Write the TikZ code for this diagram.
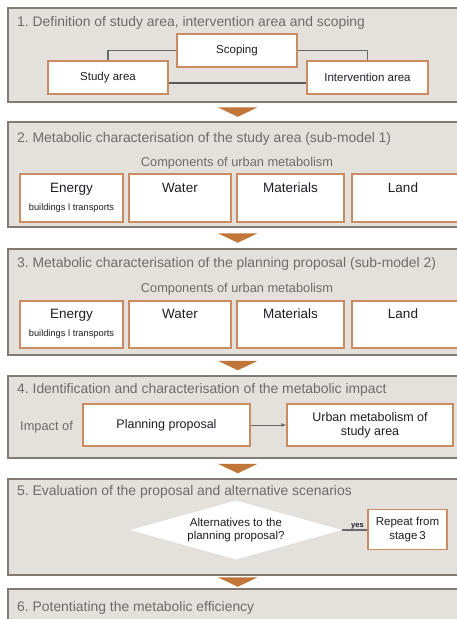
\documentclass[tikz,border=0pt]{standalone}
\usepackage{fontspec}
\setmainfont{Liberation Sans}
\usetikzlibrary{calc,arrows.meta,shapes.geometric}
\frenchspacing

\definecolor{panelfill}{HTML}{E4E0DC}
\definecolor{panelline}{HTML}{817B73}
\definecolor{boxline}{HTML}{C98B5F}
\definecolor{flowarrow}{HTML}{C27538}
\definecolor{titlegray}{HTML}{6F6B68}
\definecolor{linkgray}{HTML}{6A6A6A}
\definecolor{boxtext}{HTML}{1E1E24}

\tikzset{
  panel/.style={draw=panelline, fill=panelfill, line width=1.5pt, inner sep=0pt,
    minimum width=460pt, anchor=north west},
  heading/.style={text=titlegray, font=\fontsize{13.9}{15}\selectfont, inner sep=0pt, anchor=base west},
  sidelabel/.style={text=titlegray, font=\fontsize{12.8}{14}\selectfont, inner sep=0pt, anchor=base west},
  subheading/.style={text=titlegray, font=\fontsize{12.8}{14}\selectfont, inner sep=0pt, anchor=base},
  ubox/.style={draw=boxline, fill=white, line width=1.3pt, inner sep=0pt, text=boxtext,
    font=\fontsize{11.5}{13.5}\selectfont, align=center},
  comp/.style={text=boxtext, font=\fontsize{13.5}{15}\selectfont, inner sep=0pt, anchor=base},
  compsub/.style={text=boxtext, font=\fontsize{9.3}{10}\selectfont, inner sep=0pt, anchor=base},
  link/.style={draw=linkgray, line width=1.4pt},
}

% downward stage arrow between two stacked panels
\newcommand{\stagearrow}[2]{%
  \fill[flowarrow] ($(#1.south)!0.5!(#2.north)+(-20,-4.5)$)
    -- ($(#1.south)!0.5!(#2.north)+(20,-4.5)$)
    -- ($(#1.south)!0.5!(#2.north)+(0,5)$) -- cycle;}

\begin{document}
\begin{tikzpicture}[x=1pt, y=-1pt]
\useasboundingbox[fill=white] (0,0) rectangle (456,619);

% ---- stage panels
\node[panel, minimum height=94pt]  (p1) at (7,7)   {};
\node[panel, minimum height=105pt] (p2) at (7,121) {};
\node[panel, minimum height=106pt] (p3) at (7,248) {};
\node[panel, minimum height=82pt]  (p4) at (7,375) {};
\node[panel, minimum height=96pt]  (p5) at (7,478) {};
\node[panel, minimum height=60pt]  (p6) at (7,588) {};

\stagearrow{p1}{p2}
\stagearrow{p2}{p3}
\stagearrow{p3}{p4}
\stagearrow{p4}{p5}
\stagearrow{p5}{p6}

% ---- stage 1
\node[heading] (t1) at (17,26) {1. Definition of study area, intervention area and scoping};
\node[ubox, minimum width=120pt, minimum height=33pt] (scope) at (237,50.5) {Scoping};
\node[ubox, minimum width=120pt, minimum height=33pt] (study) at (108,77.5) {Study area};
\node[ubox, minimum width=121pt, minimum height=33pt] (inter) at (367.5,77.5) {Intervention area};
\draw[link] (scope.west) -| (study.north);
\draw[link] (scope.east) -| (inter.north);
\draw[draw=linkgray!85!black, line width=2.6pt] (study.east |- 0,83) -- (inter.west |- 0,83);

% ---- stage 2
\node[heading] (t2) at (17,142) {2. Metabolic characterisation of the study area (sub-model 1)};
\node[subheading] (c2) at (237,166) {Components of urban metabolism};
\node[ubox, minimum width=103pt, minimum height=48pt] (en2) at (71.5,198) {};
\node[ubox, minimum width=102pt, minimum height=48pt] (wa2) at (180,198) {};
\node[ubox, minimum width=107pt, minimum height=48pt] (ma2) at (290.5,198) {};
\node[ubox, minimum width=106pt, minimum height=48pt] (la2) at (405,198) {};
\node[comp] (en2t) at (en2.center |- 0,192) {Energy};
\node[compsub] (en2s) at (en2.center |- 0,210.5) {buildings l transports};
\node[comp] (wa2t) at (wa2.center |- 0,192) {Water};
\node[comp] (ma2t) at (ma2.center |- 0,192) {Materials};
\node[comp] (la2t) at (403,192) {Land};

% ---- stage 3
\node[heading] (t3) at (17,267) {3. Metabolic characterisation of the planning proposal (sub-model 2)};
\node[subheading] (c3) at (237,292.5) {Components of urban metabolism};
\node[ubox, minimum width=103pt, minimum height=47pt] (en3) at (71.5,324.5) {};
\node[ubox, minimum width=102pt, minimum height=47pt] (wa3) at (180,324.5) {};
\node[ubox, minimum width=107pt, minimum height=47pt] (ma3) at (290.5,324.5) {};
\node[ubox, minimum width=106pt, minimum height=47pt] (la3) at (405,324.5) {};
\node[comp] (en3t) at (en3.center |- 0,318.5) {Energy};
\node[compsub] (en3s) at (en3.center |- 0,336.5) {buildings l transports};
\node[comp] (wa3t) at (wa3.center |- 0,318.5) {Water};
\node[comp] (ma3t) at (ma3.center |- 0,318.5) {Materials};
\node[comp] (la3t) at (403,318.5) {Land};

% ---- stage 4
\node[heading] (t4) at (17,393) {4. Identification and characterisation of the metabolic impact};
\node[sidelabel] (imp) at (20,430) {Impact of};
\node[ubox, minimum width=167pt, minimum height=42pt, font=\fontsize{12.5}{14}\selectfont] (plan) at (166.5,425) {Planning proposal};
\node[ubox, minimum width=166pt, minimum height=42pt, font=\fontsize{12.5}{14}\selectfont] (urban) at (370,425) {Urban metabolism of\\study area};
\draw[draw=linkgray, line width=0.9pt, -{Latex[length=5pt,width=4pt]}] (plan.east) -- (urban.west);

% ---- stage 5
\node[heading] (t5) at (17,495) {5. Evaluation of the proposal and alternative scenarios};
\node[diamond, fill=white, inner sep=0pt, minimum width=212pt, minimum height=59pt, aspect=3.6] (alt) at (236,530) {};
\node[text=boxtext, font=\fontsize{11.5}{13.5}\selectfont, align=center, inner sep=0pt] (altt) at (alt.center) {Alternatives to the\\planning proposal?};
\node[ubox, minimum width=79pt, minimum height=40pt] (rep) at (407.5,529.5) {Repeat from\\stage\,3};
\draw[draw=linkgray, line width=1.2pt] (alt.east) -- (rep.west |- alt.east);
\node[text=boxtext, font=\bfseries\fontsize{7.5}{8}\selectfont, inner sep=0pt, anchor=base] (yes) at (357.5,527) {yes};

% ---- stage 6
\node[heading] (t6) at (17,611) {6. Potentiating the metabolic efficiency};

\end{tikzpicture}
\end{document}
